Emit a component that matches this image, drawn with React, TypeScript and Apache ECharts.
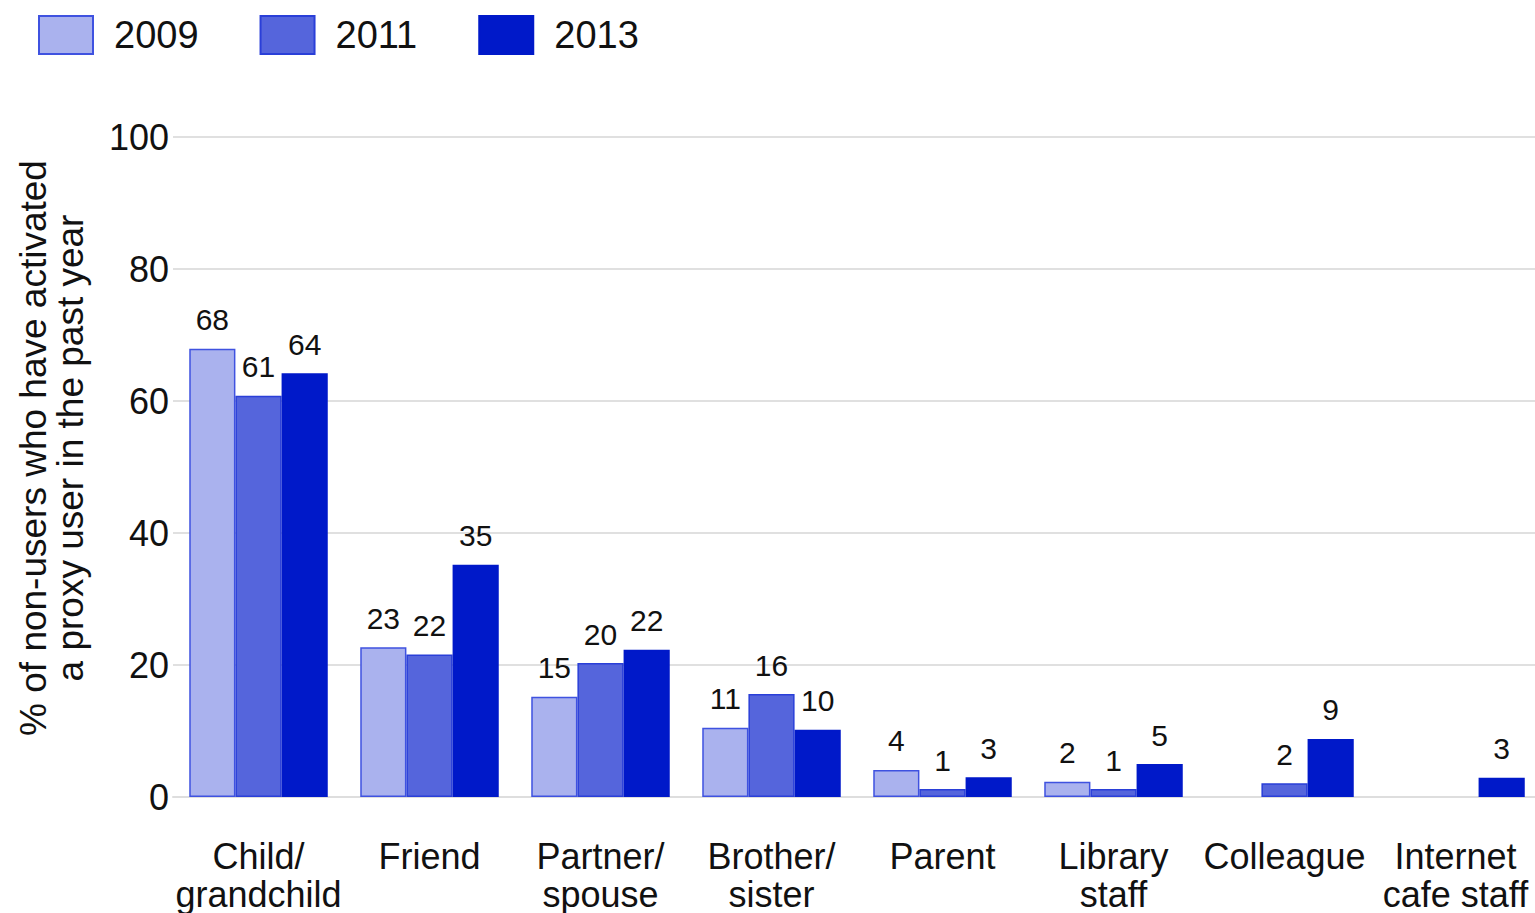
import React, { useEffect, useRef } from "react";
import * as echarts from "echarts";

const categories = [
  "Child/\ngrandchild",
  "Friend",
  "Partner/\nspouse",
  "Brother/\nsister",
  "Parent",
  "Library\nstaff",
  "Colleague",
  "Internet\ncafe staff",
];
const seriesNames = ["2009", "2011", "2013"];
const values2009 = [67.9, 22.7, 15.2, 10.5, 4.1, 2.3, null, null];
const values2011 = [60.8, 21.6, 20.3, 15.6, 1.2, 1.2, 2.1, null];
const values2013 = [64.2, 35.2, 22.3, 10.2, 3.0, 5.0, 8.8, 2.9];
const yTicks = [0, 20, 40, 60, 80, 100];
const yTitle = "% of non-users who have activated\na proxy user in the past year";

const fills = ["#aab2ee", "#5565dc", "#0019c9"];
const borders = ["#3f52e0", "#2a3fd8", "#0019c9"];
const FONT = "'Liberation Sans', Arial, sans-serif";

export default function App() {
  const ref = useRef<HTMLDivElement>(null);
  useEffect(() => {
    if (!ref.current) return;
    const chart = echarts.init(ref.current, null, { renderer: "svg" });
    const all = [values2009, values2011, values2013];
    chart.setOption({
      animation: false,
      textStyle: { fontFamily: FONT },
      legend: {
        left: 38,
        top: 15,
        padding: 0,
        icon: "rect",
        itemWidth: 54,
        itemHeight: 38,
        itemGap: 61,
        textStyle: { fontSize: 38, color: "#111", fontFamily: FONT, padding: [0, 0, 0, 16] },
        data: seriesNames,
      },
      graphic: [
        {
          type: "text",
          x: 52,
          y: 448,
          rotation: Math.PI / 2,
          style: {
            text: yTitle,
            fontSize: 37,
            lineHeight: 37,
            fill: "#111",
            fontFamily: FONT,
            align: "center",
            verticalAlign: "middle",
          },
        },
      ],
      grid: { left: 173, width: 1368, top: 137, height: 660, outerBoundsMode: "none", containLabel: false },
      xAxis: {
        type: "category",
        data: categories,
        axisLine: { show: true, lineStyle: { color: "#dedede", width: 2 } },
        axisTick: { show: false },
        axisLabel: {
          fontSize: 36,
          color: "#111",
          lineHeight: 38,
          margin: 40,
          interval: 0,
          fontFamily: FONT,
        },
      },
      yAxis: {
        type: "value",
        min: yTicks[0],
        max: yTicks[yTicks.length - 1],
        interval: 20,
        axisLine: { show: false },
        axisTick: { show: false },
        axisLabel: { fontSize: 36, color: "#111", margin: 4, fontFamily: FONT },
        splitLine: { lineStyle: { color: "#e0e0e0", width: 2 } },
      },
      series: seriesNames.map((name, i) => ({
        name,
        type: "bar",
        data: all[i],
        barGap: "0%",
        barCategoryGap: "19%",
        itemStyle: { color: fills[i], borderColor: borders[i], borderWidth: 1.5 },
        label: {
          show: true,
          position: "top",
          distance: 14,
          fontSize: 30,
          color: "#111",
          fontFamily: FONT,
          formatter: (p: any) => (p.value == null ? "" : String(Math.round(p.value))),
        },
      })),
    });
    return () => chart.dispose();
  }, []);
  return (
    <div
      ref={ref}
      style={{ position: "fixed", left: 0, top: 0, width: 1545, height: 913, background: "#fff" }}
    />
  );
}
